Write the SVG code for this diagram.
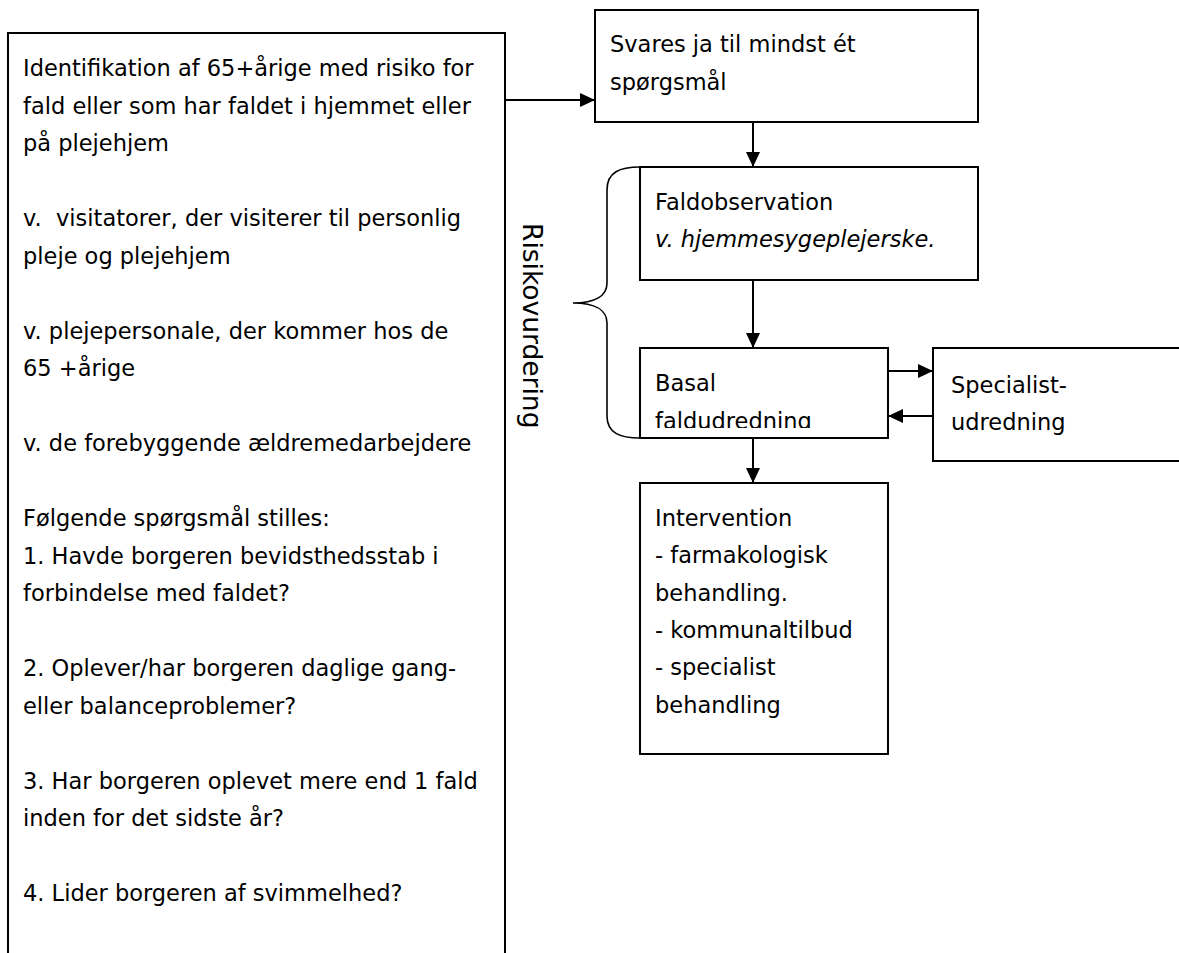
<svg xmlns="http://www.w3.org/2000/svg" width="1179" height="953" viewBox="0 0 1179 953">
<style>
.box{fill:#fff;stroke:#000;stroke-width:2}
.t{font-family:"DejaVu Sans",Verdana,sans-serif;font-size:22.5px;fill:#000}
.it{font-style:italic}
.conn{fill:none;stroke:#000;stroke-width:2}
.brace{fill:none;stroke:#000;stroke-width:1.6}
</style>
<defs>
<marker id="ah" markerUnits="userSpaceOnUse" markerWidth="15" markerHeight="14" refX="15" refY="7" orient="auto">
<path d="M0,0 L15,7 L0,14 z" fill="#000"/>
</marker>
<clipPath id="clipBasal"><rect x="640" y="348" width="248" height="80"/></clipPath>
</defs>
<rect width="1179" height="953" fill="#fff"/>

<g id="node-left">
<rect class="box" x="8" y="33" width="497" height="980"/>
<text class="t" x="23" y="76">Identifikation af 65+årige med risiko for</text>
<text class="t" x="23" y="113.5">fald eller som har faldet i hjemmet eller</text>
<text class="t" x="23" y="151">på plejehjem</text>
<text class="t" x="23" y="226">v.&#160; visitatorer, der visiterer til personlig</text>
<text class="t" x="23" y="263.5">pleje og plejehjem</text>
<text class="t" x="23" y="338.5">v. plejepersonale, der kommer hos de</text>
<text class="t" x="23" y="376">65 +årige</text>
<text class="t" x="23" y="451">v. de forebyggende ældremedarbejdere</text>
<text class="t" x="23" y="526">Følgende spørgsmål stilles:</text>
<text class="t" x="23" y="563.5">1. Havde borgeren bevidsthedsstab i</text>
<text class="t" x="23" y="601">forbindelse med faldet?</text>
<text class="t" x="23" y="676">2. Oplever/har borgeren daglige gang-</text>
<text class="t" x="23" y="713.5">eller balanceproblemer?</text>
<text class="t" x="23" y="788.5">3. Har borgeren oplevet mere end 1 fald</text>
<text class="t" x="23" y="826">inden for det sidste år?</text>
<text class="t" x="23" y="901">4. Lider borgeren af svimmelhed?</text>
</g>

<g id="node-svares">
<rect class="box" x="595" y="10" width="383" height="112"/>
<text class="t" x="610" y="52">Svares ja til mindst ét</text>
<text class="t" x="610" y="89.5">spørgsmål</text>
</g>

<g id="node-faldobservation">
<rect class="box" x="640" y="167" width="338" height="113"/>
<text class="t" x="655" y="210">Faldobservation</text>
<text class="t it" x="655" y="247">v. hjemmesygeplejerske.</text>
</g>

<g id="node-basal">
<rect class="box" x="640" y="348" width="248" height="90"/>
<g clip-path="url(#clipBasal)">
<text class="t" x="655" y="391">Basal</text>
<text class="t" x="655" y="428.5">faldudredning</text>
</g>
</g>

<g id="node-specialist">
<rect class="box" x="933" y="348" width="260" height="113"/>
<text class="t" x="951" y="393">Specialist-</text>
<text class="t" x="951" y="430">udredning</text>
</g>

<g id="node-intervention">
<rect class="box" x="640" y="483" width="248" height="271"/>
<text class="t" x="655" y="526">Intervention</text>
<text class="t" x="655" y="563">- farmakologisk</text>
<text class="t" x="655" y="600.5">behandling.</text>
<text class="t" x="655" y="638">- kommunaltilbud</text>
<text class="t" x="655" y="675">- specialist</text>
<text class="t" x="655" y="712.5">behandling</text>
</g>

<g id="label-risikovurdering">
<path class="brace" d="M640,167 C620,167 607,172 607,190 L607,283 C607,296 595,303 573,303 C595,303 607,310 607,323 L607,416 C607,433 620,438 640,438"/>
<text class="t" font-size="26.5" style="font-size:26.5px" transform="translate(523,223) rotate(90)">Risikovurdering</text>
</g>

<g id="connectors">
<line class="conn" x1="505" y1="100" x2="595" y2="100" marker-end="url(#ah)"/>
<line class="conn" x1="753" y1="122" x2="753" y2="167" marker-end="url(#ah)"/>
<line class="conn" x1="753" y1="280" x2="753" y2="348" marker-end="url(#ah)"/>
<line class="conn" x1="888" y1="371" x2="933" y2="371" marker-end="url(#ah)"/>
<line class="conn" x1="933" y1="416" x2="888" y2="416" marker-end="url(#ah)"/>
<line class="conn" x1="753" y1="438" x2="753" y2="483" marker-end="url(#ah)"/>
</g>
</svg>
